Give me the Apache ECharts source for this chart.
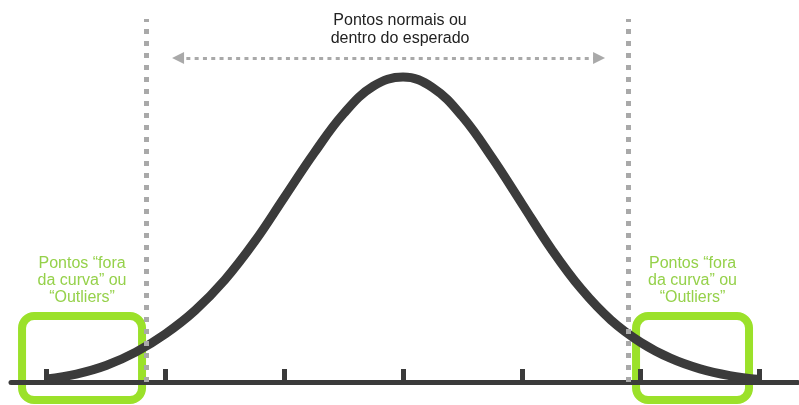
<!DOCTYPE html>
<html><head><meta charset="utf-8">
<script src="https://cdn.jsdelivr.net/npm/echarts@6/dist/echarts.min.js"></script>
<style>html,body{margin:0;padding:0;background:#fff}#c{width:799px;height:405px}</style>
</head><body><div id="c"></div>
<script>
// Data (x in standard deviations, y relative height, peak = 100)
const xValues = [-3,-2.75,-2.5,-2.25,-2,-1.75,-1.5,-1.25,-1,-0.75,-0.5,-0.25,0,0.25,0.5,0.75,1,1.25,1.5,1.75,2,2.25,2.5,2.75,3];
const curveValues = [1.0,2.6,5.4,9.8,15.8,23.5,33.5,46,60.5,75,88,97,100,96.5,87,73.5,58.5,43.5,30.5,20.3,13,7.8,4.3,2.1,0.8];
const tickValues = [-3,-2,-1,0,1,2,3];
const limitValues = [-2.163, 1.894];
const normalRange = [-1.894, 1.650];
const normalLevel = 106.2;
const limitTop = 119;
const outlierZones = [[-3.207,-2.197],[1.961,2.912]];
const zoneLevels = [-5.9, 21.6];
const normalLabel = ['Pontos normais ou','dentro do esperado'];
const outlierLabel = ['Pontos “fora','da curva” ou','“Outliers”'];

const chart = echarts.init(document.getElementById('c'), null, {renderer:'canvas'});
const dark = '#3b3b3b';
const gray = '#a9a9a9';
chart.setOption({
  animation:false,
  backgroundColor:'#ffffff',
  grid:{left:11, right:1.5, top:0, bottom:23, containLabel:false},
  xAxis:{type:'value', min:-3.3, max:3.32,
    axisLine:{show:true, onZero:false, lineStyle:{color:dark, width:5}},
    axisTick:{show:true, inside:true, length:13, customValues:tickValues, lineStyle:{color:dark, width:5}},
    axisLabel:{show:false}, splitLine:{show:false}},
  yAxis:{type:'value', min:0, max:125.25, show:false, splitLine:{show:false}},
  series:[
    {type:'line', z:3, data:xValues.map((x,i)=>[x,curveValues[i]]), smooth:0.4, showSymbol:false, silent:true,
     lineStyle:{color:dark, width:9}},
    {type:'line', z:5, data:[], silent:true,
     markLine:{silent:true, symbol:['none','none'], label:{show:false}, animation:false,
       lineStyle:{color:gray, width:5, type:[5,7], cap:'butt'},
       data: limitValues.map(v=>[{coord:[v,0]},{coord:[v,limitTop]}])}},
    {type:'line', z:5, data:[], silent:true,
     markLine:{silent:true, symbol:['triangle','triangle'], symbolSize:[12,12], label:{show:false}, animation:false,
       lineStyle:{color:gray, width:3, type:[4,4.3], cap:'butt'},
       itemStyle:{color:gray},
       data:[[{coord:[normalRange[0],normalLevel]},{coord:[normalRange[1],normalLevel]}]]}}
  ]
});

const px = p => chart.convertToPixel({gridIndex:0}, p);
const graphics = [];
outlierZones.forEach(z=>{
  const a = px([z[0], zoneLevels[1]]), b = px([z[1], zoneLevels[0]]);
  graphics.push({type:'rect', z:-10, silent:true,
    shape:{x:a[0], y:a[1], width:b[0]-a[0], height:b[1]-a[1], r:12},
    style:{fill:'none', stroke:'#9be12a', lineWidth:8}});
  const c = px([(z[0]+z[1])/2, 33.1]);
  graphics.push({type:'text', z:10, silent:true,
    style:{text:outlierLabel.join('\n'), x:c[0], y:c[1], align:'center', verticalAlign:'middle',
      fontFamily:'Liberation Sans, Arial, sans-serif', fontSize:16, lineHeight:17, fill:'#95d14a'}});
});
const t = px([0, 115.6]);
graphics.push({type:'text', z:10, silent:true,
  style:{text:normalLabel.join('\n'), x:t[0]-3, y:t[1], align:'center', verticalAlign:'middle',
    fontFamily:'Liberation Sans, Arial, sans-serif', fontSize:16, lineHeight:18, fill:'#222222'}});
chart.setOption({graphic:graphics});
</script></body></html>
